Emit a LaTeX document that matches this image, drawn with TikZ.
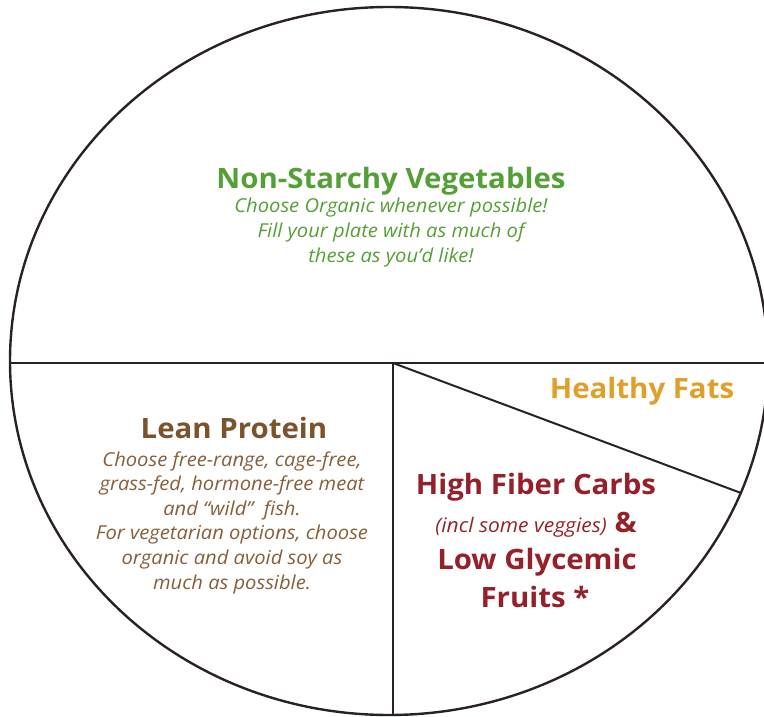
\documentclass[tikz,border=0pt]{standalone}
\usepackage{fontspec}
\setmainfont{Open Sans}[FakeStretch=1.05]
\usetikzlibrary{positioning}
\definecolor{plateLine}{RGB}{42,34,32}
\definecolor{vegGreen}{RGB}{84,160,54}
\definecolor{proteinBrown}{RGB}{122,82,44}
\definecolor{noteBrown}{RGB}{134,94,56}
\definecolor{fatGold}{RGB}{222,160,40}
\definecolor{carbRed}{RGB}{150,32,42}

\begin{document}
\begin{tikzpicture}[x=1pt, y=-1pt,
    plate/.style = {draw=plateLine, line width=2.4pt},
    divider/.style = {draw=plateLine, line width=2.8pt},
    head/.style = {font=\fontsize{28}{30}\selectfont\bfseries, inner sep=0pt, anchor=base},
    note/.style = {font=\fontsize{19.2}{24.6}\selectfont\itshape, align=center, inner sep=0pt, anchor=base}]
	\useasboundingbox (0,0) rectangle (764,717);
	% plate and dividers
	\coordinate (ctr) at (389,361);
	\coordinate (west) at (10,363);
	\coordinate (east) at (768,363);
	\coordinate (mid) at (393,363);
	\coordinate (south) at (393,716);
	\coordinate (rim) at (741,493);
	\draw[plate] (ctr) ellipse [x radius=379pt, y radius=354pt];
	\draw[divider] (west) -- (east);
	\draw[divider] (mid) -- (south);
	\draw[divider, line width=2pt] (mid) -- (rim);
	% labels (a note's base is its last line)
	\node[head, text=vegGreen] (veg) at (391,188) {Non-Starchy Vegetables};
	\node[note, text=vegGreen] (vegnote) at (391,262) {Choose Organic whenever possible!\\Fill your plate with as much of\\these as you’d like!};
	\node[head, text=proteinBrown] (protein) at (234,438) {Lean Protein};
	\node[note, text=noteBrown] (proteinnote) at (232,589) {Choose free-range, cage-free,\\grass-fed, hormone-free meat\\and “wild”~ fish.\\For vegetarian options, choose\\organic and avoid soy as\\much as possible.};
	\node[head, text=fatGold] (fats) at (642,398) {Healthy Fats};
	\node[head, text=carbRed] (carbs) at (536,494) {High Fiber Carbs};
	\node[head, text=carbRed] (incl) at (536,532) {{\fontsize{20}{22}\selectfont\mdseries\itshape (incl some veggies)}~\&};
	\node[head, text=carbRed] (glyc) at (537,569) {Low Glycemic};
	\node[head, text=carbRed] (fruits) at (535,607) {Fruits *};
\end{tikzpicture}
\end{document}
